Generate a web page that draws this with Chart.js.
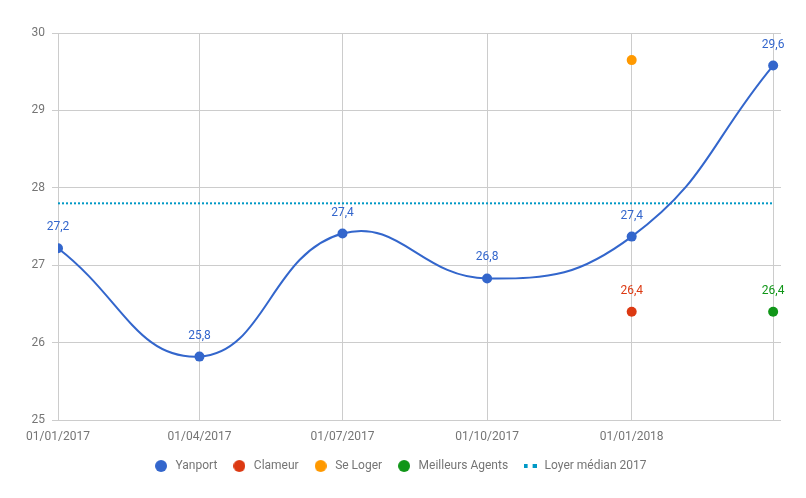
<!DOCTYPE html>
<html>
<head>
<meta charset="utf-8">
<script src="https://cdn.jsdelivr.net/npm/chart.js"></script>
<style>
  html, body { margin: 0; padding: 0; background: #fff; }
  #wrap { width: 806px; height: 498px; }
</style>
</head>
<body>
<div id="wrap"><canvas id="chart"></canvas></div>
<script>
// Data
const dates = ['2017-01-01', '2017-04-01', '2017-07-01', '2017-10-01', '2018-01-01', '2018-04-01'];
const tickLabels = ['01/01/2017', '01/04/2017', '01/07/2017', '01/10/2017', '01/01/2018', ''];
const yanport = [27.22, 25.82, 27.41, 26.83, 27.37, 29.58];
const clameur = [null, null, null, null, 26.4, null];
const seLoger = [null, null, null, null, 29.65, null];
const meilleursAgents = [null, null, null, null, null, 26.4];
const loyerMedian = 27.8;

// days since first date, used as x position
const dayMs = 24 * 3600 * 1000;
const start = Date.parse(dates[0]);
const days = dates.map(d => Math.round((Date.parse(d) - start) / dayMs));

function toPoints(values) {
  return values.map((v, i) => ({ x: days[i], y: v })).filter(p => p.y !== null);
}

const textColor = '#757575';
const gridColor = '#cccccc';

// Legend symbols drawn on small canvases
function circleIcon(color) {
  const c = document.createElement('canvas');
  c.width = 12; c.height = 12;
  const g = c.getContext('2d');
  g.fillStyle = color;
  g.beginPath();
  g.arc(6, 6, 6, 0, Math.PI * 2);
  g.fill();
  return c;
}
function dotsIcon(color) {
  const c = document.createElement('canvas');
  c.width = 13; c.height = 4;
  const g = c.getContext('2d');
  g.fillStyle = color;
  g.fillRect(0, 0, 4, 4);
  g.fillRect(9, 0, 4, 4);
  return c;
}

// Value labels above points
const valueLabels = {
  id: 'valueLabels',
  afterLayout(chart) {
    // nudge legend a bit to the right, like the original
    chart.legend.left += 9;
    chart.legend.right += 9;
  },
  afterDatasetsDraw(chart) {
    const ctx = chart.ctx;
    ctx.save();
    ctx.font = '12px Roboto';
    ctx.textAlign = 'center';
    ctx.textBaseline = 'bottom';
    chart.data.datasets.forEach((ds, i) => {
      if (!ds.showValues) return;
      const meta = chart.getDatasetMeta(i);
      meta.data.forEach((pt, j) => {
        const v = ds.data[j].y;
        ctx.fillStyle = ds.borderColor;
        ctx.fillText(v.toFixed(1).replace('.', ','), pt.x, pt.y - 15);
      });
    });
    ctx.restore();
  }
};

const ctx = document.getElementById('chart');
new Chart(ctx, {
  type: 'line',
  data: {
    datasets: [
      {
        label: 'Yanport',
        data: toPoints(yanport),
        borderColor: '#3366cc',
        backgroundColor: '#3366cc',
        borderWidth: 2,
        pointRadius: 5,
        pointBorderWidth: 0,
        tension: 0.45,
        showValues: true
      },
      {
        label: 'Clameur',
        data: toPoints(clameur),
        borderColor: '#dc3912',
        backgroundColor: '#dc3912',
        showLine: false,
        pointRadius: 5,
        pointBorderWidth: 0,
        showValues: true
      },
      {
        label: 'Se Loger',
        data: toPoints(seLoger),
        borderColor: '#ff9900',
        backgroundColor: '#ff9900',
        showLine: false,
        pointRadius: 5,
        pointBorderWidth: 0,
        showValues: false
      },
      {
        label: 'Meilleurs Agents',
        data: toPoints(meilleursAgents),
        borderColor: '#109618',
        backgroundColor: '#109618',
        showLine: false,
        pointRadius: 5,
        pointBorderWidth: 0,
        showValues: true
      },
      {
        label: 'Loyer médian 2017',
        data: [{ x: days[0], y: loyerMedian }, { x: days[days.length - 1], y: loyerMedian }],
        borderColor: '#0099c6',
        backgroundColor: '#0099c6',
        borderWidth: 2,
        borderDash: [2, 2],
        pointRadius: 0,
        showValues: false
      }
    ]
  },
  plugins: [valueLabels],
  options: {
    responsive: true,
    maintainAspectRatio: false,
    animation: false,
    layout: { padding: { top: 33, right: 25, left: 0, bottom: 16 } },
    scales: {
      x: {
        type: 'linear',
        min: 0,
        max: 460,
        afterBuildTicks(scale) {
          scale.ticks = days.map(d => ({ value: d }));
        },
        afterFit(scale) { scale.height = scale.height - 8; },
        ticks: {
          autoSkip: false,
          maxRotation: 0,
          padding: 10,
          color: textColor,
          font: { family: 'Roboto', size: 12 },
          callback(value) {
            const i = days.indexOf(value);
            return i >= 0 ? tickLabels[i] : '';
          }
        },
        grid: { color: gridColor, drawTicks: false },
        border: { display: false }
      },
      y: {
        min: 25,
        max: 30,
        afterFit(scale) { scale.width = 58; },
        ticks: {
          stepSize: 1,
          padding: 7,
          color: textColor,
          font: { family: 'Roboto', size: 12 }
        },
        grid: { color: gridColor, tickLength: 6 },
        border: { color: gridColor }
      }
    },
    plugins: {
      tooltip: { enabled: false },
      legend: {
        position: 'bottom',
        labels: {
          usePointStyle: true,
          boxHeight: 12,
          boxWidth: 17,
          pointStyleWidth: 17,
          padding: 13.5,
          color: textColor,
          font: { family: 'Roboto', size: 12 },
          generateLabels(chart) {
            return chart.data.datasets.map((ds, i) => {
              const isLine = ds.label.startsWith('Loyer');
              return {
                text: ds.label,
                datasetIndex: i,
                fillStyle: ds.backgroundColor,
                strokeStyle: ds.borderColor,
                fontColor: textColor,
                pointStyle: isLine ? dotsIcon(ds.borderColor) : circleIcon(ds.borderColor),
                lineWidth: 0,
                hidden: false
              };
            });
          }
        }
      }
    }
  }
});
</script>
</body>
</html>
